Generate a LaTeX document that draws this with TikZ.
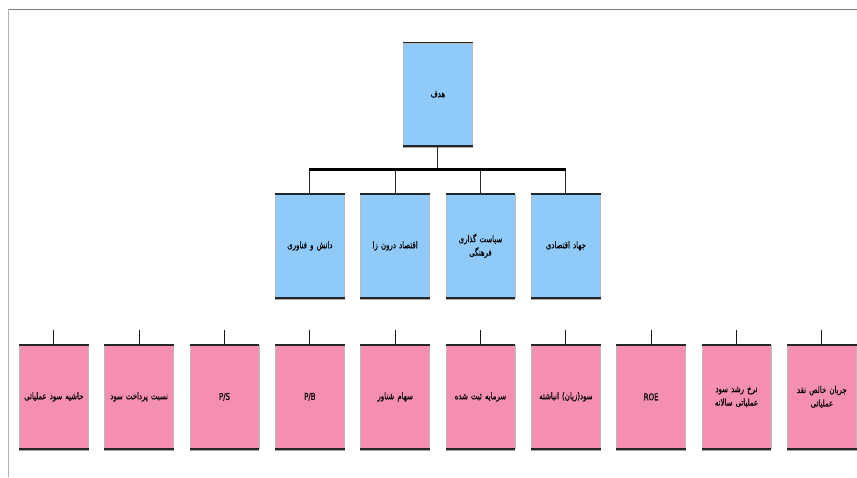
\documentclass[tikz,border=0pt]{standalone}
\usepackage{fontspec}
\TeXXeTstate=1
\newfontfamily\fa[Script=Arabic,FakeStretch=0.74,FakeBold=0.6]{DejaVu Sans}
\definecolor{boxblue}{HTML}{90CAF9}
\definecolor{boxpink}{HTML}{F48FB1}
\definecolor{edgedark}{HTML}{262626}
\definecolor{framegray}{HTML}{7A7A7A}
\tikzset{
  orgbox/.style={rectangle, draw=gray!55, line width=0.7pt, minimum width=69pt,
    minimum height=103pt, inner sep=0.5pt, text width=67pt, align=center,
    font=\fa\fontsize{9.4}{13.5}\selectfont, text=black, anchor=north west},
  goalbox/.style={orgbox, fill=boxblue},
  aimbox/.style={orgbox, fill=boxblue},
  metricbox/.style={orgbox, fill=boxpink},
  edgetop/.style={draw=edgedark, line width=1.6pt},
  edgebot/.style={draw=edgedark, line width=1.6pt},
  edgeshadow/.style={draw=gray!70, line width=0.8pt},
  link/.style={draw=edgedark, line width=1pt},
  busline/.style={draw=black, line width=2.6pt},
  stub/.style={draw=gray!20!black, line width=0.9pt},
}
\begin{document}
\begin{tikzpicture}[x=1pt,y=-1pt]
\useasboundingbox (0,0) rectangle (857,477);
% frame
\draw[framegray, line width=1.6pt] (8,9.5) -- (857,9.5);
\draw[gray!60, line width=0.6pt] (8,9) -- (8,477);

% goal
\node[goalbox] (goal) at (403,42.5) {\beginR هدف\endR};

% strategies
\node[aimbox] (s1) at (275,194) {\beginR دانش و فناوری\endR};
\node[aimbox] (s2) at (360.3,194) {\beginR اقتصاد درون زا\endR};
\node[aimbox] (s3) at (445.6,194) {\beginR سیاست گذاری\endR\\\beginR فرهنگی\endR};
\node[aimbox] (s4) at (531,194) {\beginR جهاد اقتصادی\endR};

% metrics
\node[metricbox] (m0) at (19,345) {\beginR حاشیه سود عملیاتی\endR};
\node[metricbox] (m1) at (104.3,345) {\beginR نسبت پرداخت سود\endR};
\node[metricbox] (m2) at (189.7,345) {P/S};
\node[metricbox] (m3) at (275,345) {P/B};
\node[metricbox] (m4) at (360.3,345) {\beginR سهام شناور\endR};
\node[metricbox] (m5) at (445.6,345) {\beginR سرمایه ثبت شده\endR};
\node[metricbox] (m6) at (531,345) {\beginR سود(زیان) انباشته\endR};
\node[metricbox] (m7) at (616.3,345) {ROE};
\node[metricbox] (m8) at (701.6,345) {\beginR نرخ رشد سود\endR\\\beginR عملیاتی سالانه\endR};
\node[metricbox] (m9) at (787,345) {\beginR جریان خالص نقد\endR\\\beginR عملیاتی\endR};

% box edges
\foreach \n in {goal,s1,s2,s3,s4,m0,m1,m2,m3,m4,m5,m6,m7,m8,m9}{
  \draw[edgetop] (\n.north west) -- (\n.north east);
  \draw[edgeshadow] ([yshift=-1.6pt]\n.south west) -- ([yshift=-1.6pt]\n.south east);
  \draw[edgebot] (\n.south west) -- (\n.south east);
}

% connectors
\coordinate (bus) at (437.5,169.5);
\draw[link] (goal.south) -- (goal.south |- bus);
\foreach \n in {s1,s2,s3,s4}{
  \draw[link] (\n.north) -- (\n.north |- bus);
}
\draw[busline] ([xshift=-0.5pt]s1.north |- bus) -- ([xshift=0.5pt]s4.north |- bus);

% free stubs above metric boxes
\foreach \n in {m0,m1,m2,m3,m4,m5,m6,m7,m8,m9}{
  \draw[stub] (\n.north) -- ++(0,-15);
}
\end{tikzpicture}
\end{document}
